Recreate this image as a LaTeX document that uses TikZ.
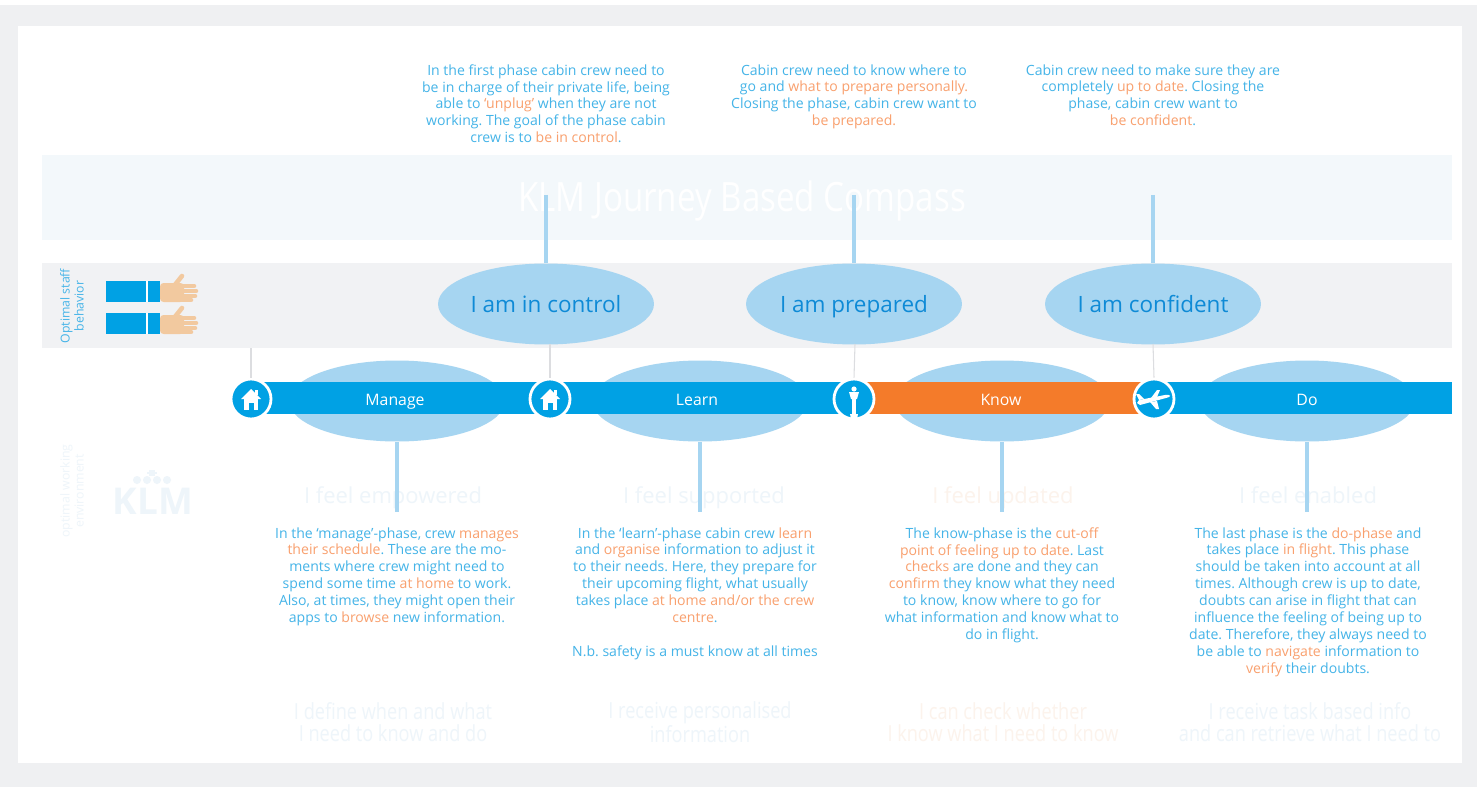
\documentclass[tikz,border=0pt]{standalone}
\usepackage{fontspec}
\setmainfont{Open Sans}
\newfontfamily\condensed[FakeStretch=0.82]{Open Sans}
\usetikzlibrary{shapes.geometric}

\definecolor{framegray}{HTML}{EFF0F2}
\definecolor{bandblue}{HTML}{F3F8FB}
\definecolor{bandgray}{HTML}{F1F2F4}
\definecolor{barblue}{HTML}{00A1E4}
\definecolor{barorange}{HTML}{F47B2A}
\definecolor{bubbleblue}{HTML}{A6D5F1}
\definecolor{bubbletext}{HTML}{0E8AD6}
\definecolor{descblue}{HTML}{45B4E8}
\definecolor{descorange}{HTML}{F9A06E}
\definecolor{ghost}{HTML}{EEF5FA}
\definecolor{ghostorange}{HTML}{FCF3EC}
\definecolor{skin}{HTML}{F2C99F}
\definecolor{tickgray}{HTML}{DCDDE0}

% orange highlight inside the blue texts
\newcommand{\hlt}[1]{\textcolor{descorange}{#1}}
\frenchspacing

\begin{document}
\begin{tikzpicture}[x=0.02cm, y=-0.02cm,
  bubble/.style={ellipse, fill=bubbleblue, minimum width=4.32cm, minimum height=1.62cm, inner sep=0pt},
  goal/.style={bubble, text=bubbletext, font=\fontsize{12.8}{15}\selectfont, text height=12.6pt, text depth=2.6pt},
  desctext/.style={align=center, text=descblue, font=\fontsize{8}{9.64}\selectfont, inner sep=0pt, anchor=north},
  stopmark/.style={circle, fill=barblue, draw=white, line width=1.6pt, minimum size=0.8cm, inner sep=0pt},
  phaselabel/.style={text=white, font=\fontsize{9}{11}\selectfont, text height=8.8pt, text depth=1.9pt},
  feeling/.style={text=ghost, font=\fontsize{12.5}{15}\selectfont, text height=12.4pt, text depth=2.6pt},
  promise/.style={text=ghost, align=center, font=\condensed\fontsize{12.6}{12.4}\selectfont},
  stemline/.style={draw=bubbleblue, line width=2.3pt},
  tick/.style={draw=tickgray, line width=0.6pt}]

  \useasboundingbox (0,0) rectangle (1477,787);
  \fill[framegray] (0,5) rectangle (1477,787);
  \fill[white] (18,26) rectangle (1462,763);

  % bands
  \fill[bandblue] (42,155) rectangle (1452,240);
  \fill[bandgray] (42,263) rectangle (1452,348);
  \node[text=white, font=\condensed\fontsize{23}{27}\selectfont] (title) at (742,201) {KLM Journey Based Compass};

  % staff behaviour row
  \node[rotate=90, align=center, text=descblue, font=\fontsize{7}{8}\selectfont] (staff) at (72,306) {Optimal staff\\behavior};
  \foreach \dy in {0,32} {
    \fill[barblue] (106,281+\dy) rectangle (160,302+\dy);
    \draw[white, line width=0.8pt] (147,281+\dy) -- (147,302+\dy);
    \fill[skin, rounded corners=2pt] (160,283+\dy) rectangle (184,302+\dy);
    \draw[skin, line width=2.6pt, line cap=round] (174,286+\dy) -- (182,276+\dy);
    \draw[skin, line width=2.6pt, line cap=round] (182,286+\dy) -- (194,286+\dy);
    \draw[skin, line width=2.6pt, line cap=round] (182,291+\dy) -- (196,291+\dy);
    \draw[skin, line width=2.6pt, line cap=round] (182,296+\dy) -- (195,296+\dy);
    \draw[skin, line width=2.6pt, line cap=round] (182,300+\dy) -- (191,300+\dy);
  }

  % goals
  \coordinate (g1) at (546,195);
  \coordinate (g2) at (854,195);
  \coordinate (g3) at (1153,195);
  \node[goal] (ctrl) at (546,304) {I am in control};
  \node[goal] (prep) at (854,304) {I am prepared};
  \node[goal] (conf) at (1153,304) {I am confident};
  \draw[stemline] (g1) -- (ctrl.north);
  \draw[stemline] (g2) -- (prep.north);
  \draw[stemline] (g3) -- (conf.north);

  \node[desctext] (intro1) at (546,64) {In the first phase cabin crew need to\\
    be in charge of their private life, being\\
    able to \hlt{‘unplug’} when they are not\\
    working. The goal of the phase cabin\\
    crew is to \hlt{be in control}.};
  \node[desctext] (intro2) at (854,64) {Cabin crew need to know where to\\
    go and \hlt{what to prepare personally.}\\
    Closing the phase, cabin crew want to\\
    \hlt{be prepared.}};
  \node[desctext] (intro3) at (1153,64) {Cabin crew need to make sure they are\\
    completely \hlt{up to date}. Closing the\\
    phase, cabin crew want to\\
    \hlt{be confident}.};

  % phases along the journey
  \node[bubble] (mng) at (397,401) {};
  \node[bubble] (lrn) at (700,401) {};
  \node[bubble] (knw) at (1002,401) {};
  \node[bubble] (act) at (1307,401) {};
  \fill[barblue] (251,382) rectangle (1452,414);
  \fill[barorange] (854,382) rectangle (1154,414);
  \node[phaselabel] (lmng) at (395,399) {Manage};
  \node[phaselabel] (llrn) at (697,399) {Learn};
  \node[phaselabel] (lknw) at (1001,399) {Know};
  \node[phaselabel] (lact) at (1307,399) {Do};

  \node[stopmark] (hm1) at (251,399) {};
  \node[stopmark] (hm2) at (550,399) {};
  \node[stopmark] (twr) at (854,399) {};
  \node[stopmark] (pln) at (1154,399) {};
  \coordinate (t1) at (251,348);
  \coordinate (t2) at (550,344);
  \coordinate (t3) at (855,344);
  \coordinate (t4) at (1153,344);
  \draw[tick] (t1) -- (hm1.north);
  \draw[tick] (t2) -- (hm2.north);
  \draw[tick] (t3) -- (twr.north);
  \draw[tick] (t4) -- (pln.north);

  % icons
  \foreach \hx in {251,550} {
    \fill[white] (\hx-10,399) -- (\hx,389) -- (\hx+10,399) -- cycle;
    \fill[white] (\hx+4,390) rectangle (\hx+7,395);
    \fill[white] (\hx-7,398) rectangle (\hx+7,410);
    \fill[barblue] (\hx-2.5,403) rectangle (\hx+2.5,410);
  }
  \fill[white] (854,389) circle (2.6);
  \fill[white] (849,392) -- (859,392) -- (857,399) -- (851,399) -- cycle;
  \fill[white] (852,399) rectangle (856,414);
  \fill[white] (850,414) -- (858,414) -- (857,419) -- (851,419) -- cycle;
  \fill[white] (1137,403) -- (1139,400) -- (1165,395) .. controls (1171,394) and (1172,397) .. (1166,398) -- (1140,405) -- cycle;
  \fill[white] (1151,398) -- (1157,390) -- (1160,390) -- (1157,397) -- cycle;
  \fill[white] (1150,402) -- (1156,409) -- (1159,409) -- (1157,401) -- cycle;
  \fill[white] (1139,400) -- (1136,394) -- (1139,394) -- (1144,399) -- cycle;

  % faint working environment row
  \node[rotate=90, align=center, text=ghost, font=\fontsize{7}{8}\selectfont] (env) at (72,491) {optimal working\\environment};
  \node[text=ghost, font=\bfseries\fontsize{21}{24}\selectfont] (klm) at (153,501) {KLM};
  \foreach \kx in {137,147,157,167} \fill[ghost] (\kx,480) circle (4);
  \fill[ghost] (149,470) rectangle (155,476);
  \fill[ghost] (147,472) rectangle (157,474);
  \node[feeling] (fmng) at (393,495) {I feel empowered};
  \node[feeling] (flrn) at (704,495) {I feel supported};
  \node[feeling, text=ghostorange] (fknw) at (1003,495) {I feel updated};
  \node[feeling] (fact) at (1308,495) {I feel enabled};
  \node[promise] (pmng) at (393,722) {I define when and what\\I need to know and do};
  \node[promise] (plrn) at (700,722) {I receive personalised\\information};
  \node[promise, text=ghostorange] (pknw) at (1003,722) {I can check whether\\I know what I need to know};
  \node[promise] (pact) at (1310,722) {I receive task based info\\and can retrieve what I need to};

  \coordinate (f1) at (397,512);
  \coordinate (f2) at (700,512);
  \coordinate (f3) at (1002,512);
  \coordinate (f4) at (1307,512);
  \draw[stemline] (mng.south) -- (f1);
  \draw[stemline] (lrn.south) -- (f2);
  \draw[stemline] (knw.south) -- (f3);
  \draw[stemline] (act.south) -- (f4);

  % phase descriptions
  \node[desctext] (dmng) at (397,527) {In the ‘manage’-phase, crew \hlt{manages}\\
    \hlt{their schedule}. These are the mo-\\
    ments where crew might need to\\
    spend some time \hlt{at home} to work.\\
    Also, at times, they might open their\\
    apps to \hlt{browse} new information.};
  \node[desctext] (dlrn) at (695,527) {In the ‘learn’-phase cabin crew \hlt{learn}\\
    and \hlt{organise} information to adjust it\\
    to their needs. Here, they prepare for\\
    their upcoming flight, what usually\\
    takes place \hlt{at home and/or the crew}\\
    \hlt{centre}.\\[9.64pt]
    N.b. safety is a must know at all times};
  \node[desctext] (dknw) at (1002,527) {The know-phase is the \hlt{cut-off}\\
    \hlt{point of feeling up to date}. Last\\
    \hlt{checks} are done and they can\\
    \hlt{confirm} they know what they need\\
    to know, know where to go for\\
    what information and know what to\\
    do in flight.};
  \node[desctext] (dact) at (1308,527) {The last phase is the \hlt{do-phase} and\\
    takes place \hlt{in flight}. This phase\\
    should be taken into account at all\\
    times. Although crew is up to date,\\
    doubts can arise in flight that can\\
    influence the feeling of being up to\\
    date. Therefore, they always need to\\
    be able to \hlt{navigate} information to\\
    \hlt{verify} their doubts.};
\end{tikzpicture}
\end{document}
